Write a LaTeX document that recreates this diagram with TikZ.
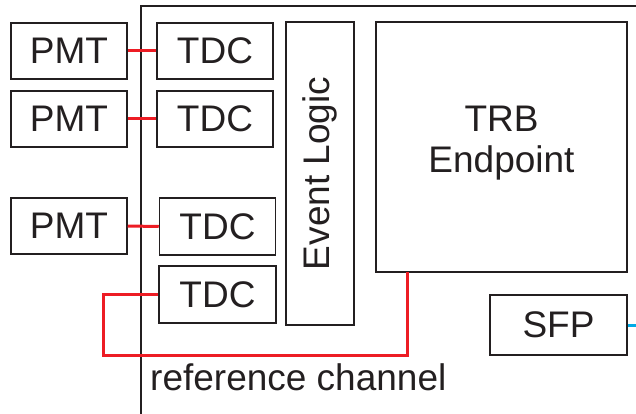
\documentclass[tikz,border=0pt]{standalone}
\usepackage{fontspec}
\setmainfont{Liberation Sans}
\definecolor{txt}{RGB}{35,31,32}
\definecolor{sigred}{RGB}{237,28,36}
\definecolor{sigblue}{RGB}{0,170,230}
\begin{document}
\begin{tikzpicture}[x=1pt,y=-1pt,
  box/.style={draw=txt,line width=1.5pt,rectangle,inner sep=0pt,text=txt,
    font=\fontsize{37}{41}\selectfont},
  sig/.style={draw=sigred,line width=3pt},
  link/.style={draw=sigblue,line width=3pt}]
\useasboundingbox (0,0) rectangle (636,414);
% board outline
\draw[txt,line width=1.5pt] (141,414) -- (141,6) -- (636,6);
% PMTs
\node[box,minimum width=116pt,minimum height=56pt] (pmt1) at (69,51) {PMT};
\node[box,minimum width=116pt,minimum height=56pt] (pmt2) at (69,119) {PMT};
\node[box,minimum width=116pt,minimum height=56pt] (pmt3) at (69,226) {PMT};
% TDCs
\node[box,minimum width=116pt,minimum height=56pt] (tdc1) at (215,51) {TDC};
\node[box,minimum width=116pt,minimum height=56pt] (tdc2) at (215,119) {TDC};
\node[box,minimum width=116pt,minimum height=57pt] (tdc3) at (217.5,226.5) {TDC};
\node[box,minimum width=117pt,minimum height=57pt] (tdc4) at (217.5,294.5) {TDC};
% Event logic
\node[box,rotate=90,minimum width=303pt,minimum height=68pt] (evl) at (320,173.5) {Event Logic};
% TRB endpoint
\node[box,minimum width=251pt,minimum height=250pt] (trb) at (501.5,147) {};
\node[text=txt,font=\fontsize{37}{41}\selectfont,align=center,inner sep=0pt] (trbt) at (501.5,143) {TRB\\Endpoint};
% SFP
\node[box,minimum width=137pt,minimum height=60pt] (sfp) at (558.5,325) {SFP};
% connections
\draw[sig] (pmt1.east) -- (tdc1.west);
\draw[sig] (pmt2.east) -- (tdc2.west);
\draw[sig] (pmt3.east) -- (tdc3.west);
\coordinate (r1) at (103,355);
\coordinate (tap) at (407,272);
\draw[sig] (tdc4.west) -| (r1) -| (tap);
\coordinate (out) at (636,325);
\draw[link] (sfp.east) -- (out);
% label
\node[text=txt,font=\fontsize{37}{41}\selectfont,anchor=base west,inner sep=0pt] (lbl) at (150,390) {reference channel};
\end{tikzpicture}
\end{document}
